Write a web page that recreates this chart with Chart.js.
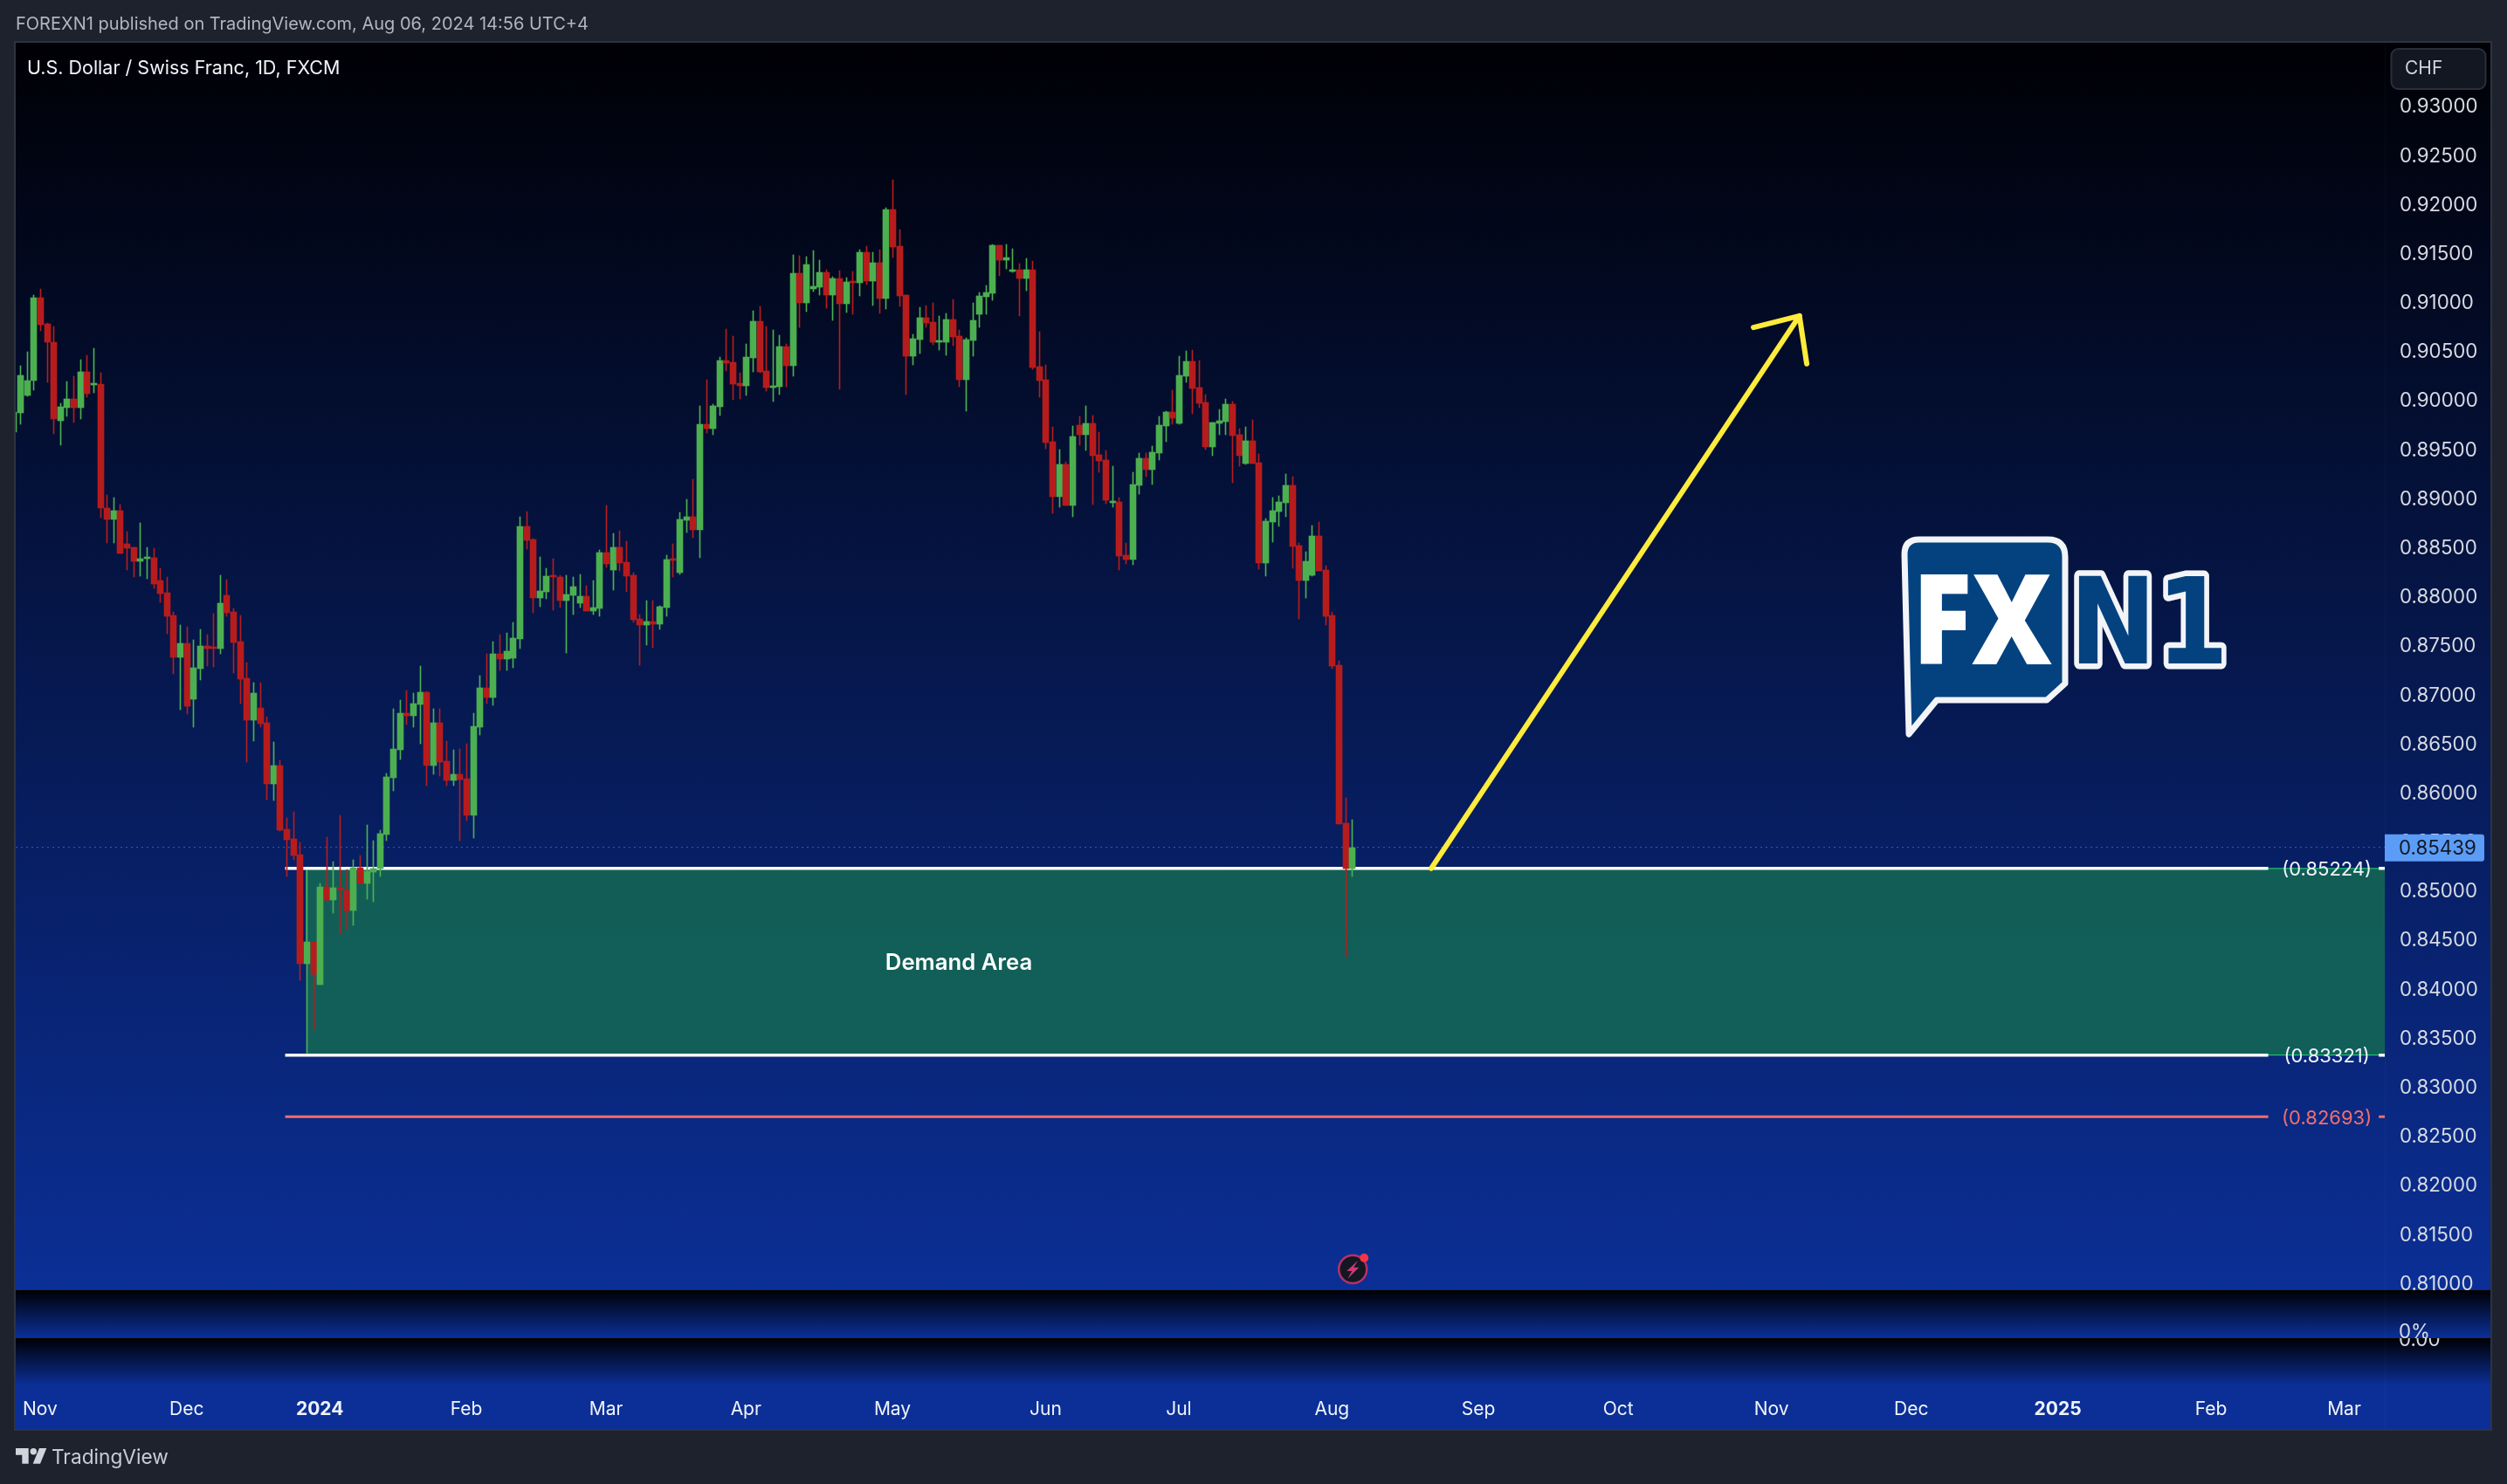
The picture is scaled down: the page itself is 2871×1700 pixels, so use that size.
<!DOCTYPE html>
<html><head><meta charset="utf-8">
<style>html,body{margin:0;padding:0;background:#1E222D;overflow:hidden}canvas{display:block}</style>
<script src="https://cdn.jsdelivr.net/npm/chart.js@4"></script>
</head><body><canvas id="c" width="2871" height="1700"></canvas>
<script>
const openPrices=[.89671,.89865,.90043,.90194,.91040,.90776,.90588,.89790,.89919,.90011,.89919,.90286,.90151,.90162,.88901,.88782,.88874,.88534,.88496,.88356,.88383,.88389,.88162,.88033,.87806,.87375,.87521,.86949,.87262,.87494,.87478,.87467,.88006,.87839,.87537,.87165,.86734,.86863,.86712,.86087,.86276,.85624,.85527,.85365,.84254,.84475,.84039,.85036,.84901,.85031,.85004,.84799,.85230,.85074,.85187,.85225,.85570,.86152,.86432,.86809,.86782,.86896,.87020,.86276,.86709,.86318,.86122,.86184,.86140,.85766,.86665,.87065,.86967,.87412,.87359,.87368,.87564,.88711,.88578,.87982,.88044,.88204,.88195,.87955,.88008,.87928,.88000,.87848,.87875,.88444,.88267,.88498,.88347,.88213,.87768,.87706,.87742,.87715,.87884,.88373,.88240,.88774,.88809,.88676,.89752,.89708,.89930,.90402,.90384,.90170,.90144,.90428,.90802,.90295,.90126,.90135,.90544,.90348,.91292,.90989,.91131,.91149,.91300,.91069,.91238,.90980,.91203,.91194,.91505,.91211,.91398,.91034,.91941,.91567,.91069,.90446,.90615,.90838,.90793,.90589,.90589,.90820,.90651,.90206,.90606,.90873,.91051,.91087,.91576,.91425,.91309,.91327,.91238,.91327,.90339,.90206,.89574,.89014,.89343,.88925,.89743,.89645,.89761,.89441,.89387,.88951,.88961,.88418,.88374,.89130,.89406,.89290,.89459,.89735,.89877,.89762,.90242,.90393,.90127,.89975,.89521,.89762,.89780,.89957,.89646,.89352,.89584,.89361,.88338,.88756,.88863,.88952,.89130,.88516,.88160,.88213,.88614,.88267,.87804,.87296,.85685,.85222];
const closePrices=[.89876,.90248,.90200,.91040,.90766,.90588,.89806,.89930,.90011,.89919,.90286,.90065,.90162,.88895,.88782,.88874,.88437,.88491,.88356,.88383,.88394,.88124,.88027,.87796,.87375,.87521,.86879,.87273,.87494,.87467,.87467,.87930,.87833,.87526,.87154,.86734,.87014,.86702,.86087,.86276,.85618,.85516,.85359,.84254,.84475,.84147,.85036,.84901,.85031,.85009,.84799,.85230,.85074,.85198,.85225,.85580,.86157,.86443,.86809,.86782,.86906,.87020,.86276,.86712,.86309,.86122,.86184,.86131,.85766,.86674,.87065,.86967,.87412,.87359,.87439,.87572,.88711,.88569,.87982,.88053,.88204,.88195,.87955,.88017,.88097,.88000,.87848,.87884,.88444,.88329,.88498,.88338,.88204,.87759,.87706,.87742,.87715,.87893,.88373,.88364,.88783,.88809,.88676,.89752,.89708,.89939,.90402,.90375,.90161,.90144,.90437,.90802,.90286,.90126,.90144,.90544,.90348,.91292,.90989,.91381,.91158,.91300,.91069,.91238,.90980,.91203,.91194,.91505,.91211,.91398,.91034,.91941,.91559,.91060,.90446,.90624,.90838,.90784,.90589,.90598,.90820,.90642,.90206,.90615,.90811,.91060,.91096,.91576,.91425,.91452,.91327,.91238,.91327,.90331,.90197,.89565,.89014,.89343,.88925,.89628,.89645,.89761,.89432,.89379,.88978,.88960,.88409,.88374,.89139,.89406,.89290,.89468,.89744,.89877,.89815,.90251,.90393,.90118,.89966,.89521,.89771,.89788,.89957,.89637,.89432,.89584,.89352,.88338,.88765,.88872,.88961,.89130,.88507,.88160,.88356,.88614,.88258,.87795,.87288,.85678,.85222,.85439];
const highPrices=[.89876,.90351,.90491,.91067,.91132,.90782,.90749,.89968,.90189,.90243,.90410,.90458,.90528,.90275,.89030,.89003,.88938,.88658,.88496,.88744,.88496,.88491,.88286,.88195,.87839,.87704,.87688,.87553,.87661,.87607,.87823,.88211,.88168,.87877,.87806,.87321,.87117,.87117,.86772,.86513,.86330,.85742,.85801,.85489,.85208,.84475,.85074,.85543,.85295,.85769,.85214,.85316,.85359,.85667,.85510,.85618,.86189,.86852,.86939,.87041,.87014,.87289,.87030,.86852,.86852,.86522,.86433,.86442,.86496,.86807,.87190,.87412,.87537,.87608,.87626,.87733,.88809,.88863,.88587,.88400,.88284,.88382,.88213,.88213,.88195,.88222,.88106,.88160,.88471,.88925,.88640,.88667,.88560,.88240,.87813,.87955,.87955,.87902,.88418,.88533,.88854,.88987,.89191,.89939,.90206,.89957,.90437,.90722,.90651,.90277,.90571,.90909,.90953,.90749,.90713,.90660,.90571,.91478,.91470,.91461,.91523,.91425,.91327,.91256,.91318,.91247,.91309,.91532,.91567,.91505,.91532,.91959,.92244,.91736,.91069,.90669,.90945,.90962,.90989,.90856,.90882,.91025,.90713,.90633,.90989,.91096,.91167,.91585,.91576,.91585,.91541,.91389,.91443,.91416,.90695,.90357,.89725,.89494,.89370,.89734,.89832,.89939,.89841,.89672,.89485,.89325,.89005,.88543,.89263,.89459,.89459,.89530,.89833,.89886,.90100,.90447,.90500,.90509,.90402,.90055,.89771,.89904,.90011,.89984,.89708,.89726,.89797,.89450,.88792,.89005,.89023,.89246,.89219,.88543,.88454,.88721,.88756,.88311,.87840,.87340,.85944,.85722];
const lowPrices=[.89671,.89752,.90038,.90097,.90706,.90178,.89655,.89537,.89833,.89768,.89806,.90027,.90070,.88798,.88545,.88545,.88437,.88265,.88195,.88205,.88178,.88081,.87936,.87618,.87208,.86842,.86799,.86664,.87144,.87289,.87278,.87413,.87796,.87219,.86906,.86308,.86524,.86664,.85925,.85920,.85607,.85144,.85311,.84087,.83333,.83575,.84039,.84890,.84772,.84556,.84599,.84648,.85074,.84912,.84885,.85144,.85510,.86017,.86335,.86691,.86664,.86497,.86071,.86184,.86167,.86069,.86069,.85508,.85713,.85535,.86585,.86905,.86887,.87243,.87243,.87270,.87466,.88480,.87831,.87893,.87973,.87857,.87884,.87421,.87813,.87884,.87848,.87813,.87795,.88293,.88062,.88258,.88044,.87733,.87297,.87501,.87475,.87661,.87795,.88195,.88222,.88649,.88596,.88391,.89663,.89645,.89841,.90295,.90001,.90010,.90046,.90286,.90277,.90090,.89984,.90055,.90135,.90242,.90740,.90900,.91105,.91069,.90936,.90811,.90108,.90891,.90873,.91060,.91176,.90962,.90882,.90927,.91452,.90953,.90055,.90357,.90473,.90740,.90562,.90509,.90455,.90553,.90135,.89886,.90446,.90740,.90873,.91016,.91265,.91336,.91300,.90856,.91114,.90313,.90028,.89503,.88845,.88907,.88925,.88809,.89539,.89485,.88934,.89263,.88943,.88907,.88267,.88329,.88320,.89041,.89219,.89139,.89388,.89575,.89753,.89753,.90180,.89860,.89922,.89495,.89432,.89646,.89646,.89157,.89326,.89343,.89352,.88276,.88205,.88552,.88712,.88810,.88285,.87769,.87982,.88205,.88258,.87706,.87261,.85678,.84323,.85144];
const monthNames=['Jan','Feb','Mar','Apr','May','Jun','Jul','Aug','Sep','Oct','Nov','Dec'];
const holidays=['2023-12-25','2024-01-01'];
const demandTop=0.85224, demandBottom=0.83321, lowerLevel=0.82693, lastPrice=0.85439;
const arrowShaft=[[212.9,0.85224],[268.2,0.90858]];
const arrowHead=[[261.3,0.90740],[268.2,0.90858],[269.3,0.90369]];
const demandStartBar=44, levelStartBar=40.8, viewFirstBar=0.34, viewLastBar=356.1;
const labelGapStart=338.6, labelGapEnd=355.2, labelBar=347.4;

const dates=[];
for(let d=new Date(Date.UTC(2023,9,26));dates.length<358;d=new Date(d.getTime()+864e5)){
  const w=d.getUTCDay(), s=d.toISOString().slice(0,10);
  if(w===0||w===6||holidays.includes(s))continue;
  dates.push(s);
}
const monthTicks=[];
dates.forEach((s,i)=>{if(i&&s.slice(5,7)!==dates[i-1].slice(5,7))monthTicks.push(i);});
function tickLabel(i){const s=dates[i];const m=+s.slice(5,7)-1;return m===0?s.slice(0,4):monthNames[m];}

const GREEN='#4CAF50',RED='#B71C1C';
const colors=openPrices.map((o,i)=>closePrices[i]>=o?GREEN:RED);
const hline=(p)=>[{x:levelStartBar,y:p},{x:labelGapStart,y:p},{x:labelGapStart+.1,y:null},{x:labelGapEnd,y:p},{x:viewLastBar,y:p}];
const pts=a=>a.map(([x,y])=>({x,y}));
const F='Inter, "Liberation Sans", sans-serif';

function txt(c,s,x,y,font,color,align){c.font=font;c.fillStyle=color;c.textAlign=align||'left';c.textBaseline='middle';c.fillText(s,x,y);}
function poly(c,p){c.beginPath();p.forEach(([x,y],i)=>i?c.lineTo(x,y):c.moveTo(x,y));c.closePath();}

const chrome={id:'chrome',
 afterDatasetsUpdate(ch){ // snap candles to whole device pixels, as the original renderer does
  ch.getSortedVisibleDatasetMetas().forEach(m=>{if(m.type!=='bar')return;
   m.data.forEach(el=>{el.x=Math.round(el.x)+.5;el.y=Math.round(el.y);el.base=Math.round(el.base);});});},
 beforeDraw(ch){const c=ch.ctx;c.save();
  c.fillStyle='#1E222D';c.fillRect(0,0,2871,1700);
  c.strokeStyle='#2E3340';c.lineWidth=2;c.strokeRect(17,48,2836,1590);
  const grad=(y0,y1,h)=>{const g=c.createLinearGradient(0,y0,0,y1);g.addColorStop(0,'#000005');g.addColorStop(1,'#0B2F96');c.fillStyle=g;c.fillRect(18,y0,2834,h);};
  grad(49,1477,1428);grad(1478,1532,54);
  c.fillStyle='#0B2F96';c.fillRect(18,1533,2834,104);grad(1533,1587,54);
  c.fillStyle='#2A2E39';c.fillRect(18,1477,2834,1);c.fillRect(18,1532,2834,1);
  c.fillStyle='rgba(255,255,255,.03)';c.fillRect(2731,49,1,1588);
  c.restore();},
 beforeDatasetsDraw(ch){const c=ch.ctx,x=ch.scales.x,y=ch.scales.y,a=ch.chartArea;c.save();
  const l=x.getPixelForValue(demandStartBar),t=y.getPixelForValue(demandTop),b=y.getPixelForValue(demandBottom);
  c.fillStyle='rgba(21,110,82,.8)';c.fillRect(l,t,a.right-l,b-t);
  c.strokeStyle='#22E06E';c.lineWidth=1;c.beginPath();c.moveTo(l,y.getPixelForValue(.84475));c.lineTo(l,t);c.lineTo(a.right,t);c.moveTo(l,b);c.lineTo(a.right,b);c.stroke();
  c.restore();},
 afterDraw(ch){const c=ch.ctx,x=ch.scales.x,y=ch.scales.y;c.save();
  txt(c,'FOREXN1 published on TradingView.com, Aug 06, 2024 14:56 UTC+4',18,28,'20px '+F,'#B2B5BE');
  txt(c,'U.S. Dollar / Swiss Franc, 1D, FXCM',31,78.5,'21.5px '+F,'#F0F3FA');
  c.fillStyle='#131722';c.strokeStyle='#2A2E39';c.lineWidth=2;c.beginPath();c.roundRect(2738.5,56,108,46,8);c.fill();c.stroke();
  txt(c,'CHF',2754,79,'21px '+F,'#D1D4DC');
  const ly=y.getPixelForValue(lastPrice);
  c.fillStyle='#5B9CF6';c.beginPath();c.roundRect(2731,ly-15,114,31,[0,3,3,0]);c.fill();
  txt(c,lastPrice.toFixed(5),2747,ly+1.5,'22.3px '+F,'#131722');
  const lx=x.getPixelForValue(labelBar);
  txt(c,'('+demandTop.toFixed(5)+')',lx,y.getPixelForValue(demandTop)+2,'22px '+F,'#F0F3FA','center');
  txt(c,'('+demandBottom.toFixed(5)+')',lx,y.getPixelForValue(demandBottom)+2,'22px '+F,'#F0F3FA','center');
  txt(c,'('+lowerLevel.toFixed(5)+')',lx,y.getPixelForValue(lowerLevel)+2,'22px '+F,'#F26D6D','center');
  txt(c,'Demand Area',1098,1103,'600 25.7px '+F,'#FFFFFF','center');
  c.save();c.beginPath();c.rect(2732,1533,120,30);c.clip();txt(c,'0.00',2747,1535,'22.3px '+F,'#D8DBE3');c.restore();
  c.save();c.beginPath();c.rect(2732,1478,120,55);c.clip();txt(c,'0%',2747,1526,'22.3px '+F,'#D8DBE3');c.restore();
  c.fillStyle='#D1D4DC';
  poly(c,[[18,1659],[32.7,1659],[32.7,1676.7],[25.3,1676.7],[25.3,1666.7],[18,1666.7]]);c.fill();
  c.beginPath();c.arc(38.3,1662.7,3.7,0,7);c.fill();
  poly(c,[[45,1659],[53.3,1659],[46,1676.7],[37.7,1676.7]]);c.fill();
  txt(c,'TradingView',59,1670,'400 22.7px '+F,'#C9CCD6');
  const mx=x.getPixelForValue(201)+1;
  c.fillStyle='#131722';c.strokeStyle='#B83068';c.lineWidth=2.5;c.beginPath();c.arc(mx,1454,16,0,7);c.fill();c.stroke();
  c.fillStyle='#C93A76';poly(c,[[mx+6,1444],[mx-7,1456],[mx-1,1456],[mx-6,1465],[mx+7,1452],[mx+1,1452]]);c.fill();
  c.fillStyle='#F23645';c.beginPath();c.arc(mx+13,1441,5,0,7);c.fill();
  c.lineJoin='round';c.lineCap='round';
  c.beginPath();
  c.moveTo(2181,635);c.quadraticCurveTo(2181,618,2198,618);c.lineTo(2345,618);c.quadraticCurveTo(2365,618,2365,638);
  c.lineTo(2365,783);c.lineTo(2344,802);c.lineTo(2218,802);c.lineTo(2186,841);c.closePath();
  c.fillStyle='#04427F';c.fill();c.strokeStyle='#F2F4F8';c.lineWidth=7;c.stroke();
  const fit=(s,x0,x1,base,font,stroke)=>{c.save();c.font=font;c.textBaseline='alphabetic';c.textAlign='left';
    const w=c.measureText(s).width;c.translate(x0,base);c.scale((x1-x0)/w,1);
    if(stroke){c.strokeStyle='#F2F4F8';c.lineWidth=13;c.strokeText(s,0,0);c.fillStyle='#04427F';}else c.fillStyle='#FFFFFF';
    c.fillText(s,0,0);c.restore();};
  fit('FX',2190,2350,761,'800 143px "Open Sans"',false);
  fit('N1',2370,2552,759.5,'bold 137px "DejaVu Sans"',true);
  c.restore();}
};

new Chart(document.getElementById('c'),{
 type:'bar',
 data:{datasets:[
  {type:'line',data:[{x:viewFirstBar,y:lastPrice},{x:viewLastBar,y:lastPrice}],borderColor:'rgba(60,125,225,.75)',borderWidth:1,borderDash:[2,4],pointRadius:0,order:7},
  {type:'line',data:hline(demandTop),borderColor:'#FFFFFF',borderWidth:3.5,pointRadius:0,order:6},
  {type:'line',data:hline(demandBottom),borderColor:'#FFFFFF',borderWidth:3.5,pointRadius:0,order:6},
  {type:'line',data:hline(lowerLevel),borderColor:'#F26D6D',borderWidth:3,pointRadius:0,order:6},
  {data:highPrices.map((h,i)=>({x:i,y:[lowPrices[i],h]})),backgroundColor:colors,barThickness:1,grouped:false,order:5},
  {data:openPrices.map((o,i)=>({x:i,y:[o,closePrices[i]]})),backgroundColor:colors,barThickness:7,minBarLength:2,grouped:false,order:4},
  {type:'line',data:pts(arrowShaft),borderColor:'#FFEB3B',borderWidth:6,borderCapStyle:'round',pointRadius:0,order:2},
  {type:'line',data:pts(arrowHead),borderColor:'#FFEB3B',borderWidth:6,borderCapStyle:'round',borderJoinStyle:'round',pointRadius:0,order:2}
 ]},
 options:{responsive:false,animation:false,devicePixelRatio:1,
  layout:{padding:{left:18,top:49,right:19,bottom:63}},
  plugins:{legend:{display:false},tooltip:{enabled:false},title:{display:false}},
  events:[],
  scales:{
   x:{type:'linear',offset:false,min:viewFirstBar,max:viewLastBar,grid:{display:false},border:{display:false},
    afterBuildTicks(s){s.ticks=monthTicks.map(v=>({value:v}));},
    afterFit(s){s.height=160;s.paddingLeft=0;s.paddingRight=0;},
    ticks:{autoSkip:false,maxRotation:0,padding:117,color:'#F0F3FA',
      font:ctx=>({family:F,size:21,weight:(ctx.tick&&/^\d/.test(ctx.tick.label))?'700':'400'}),
      callback:v=>tickLabel(v)}},
   y:{type:'linear',position:'right',min:0.80933,max:0.93642,grid:{display:false},border:{display:false},
    afterFit(s){s.width=121;s.paddingTop=0;s.paddingBottom=0;},
    ticks:{stepSize:0.005,includeBounds:false,padding:9,labelOffset:1.5,color:'#D8DBE3',font:{family:F,size:22.3},callback:v=>v.toFixed(5)}}
  }
 },
 plugins:[chrome]
});
</script></body></html>
